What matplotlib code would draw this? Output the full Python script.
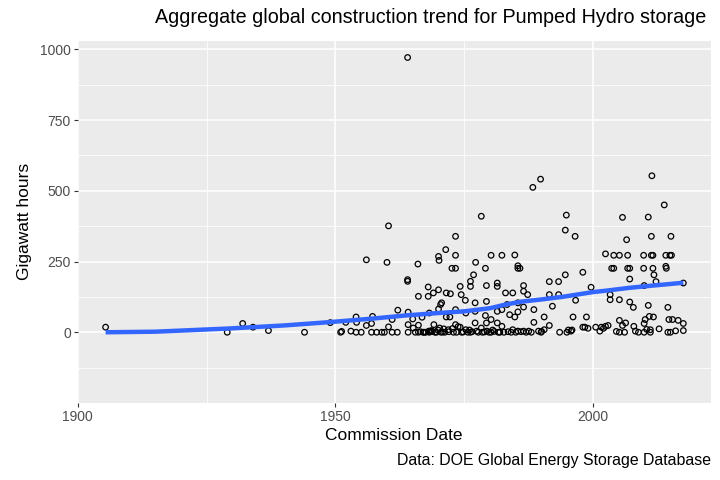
import numpy as np
import matplotlib.pyplot as plt
from matplotlib.ticker import MultipleLocator

plt.rcParams['font.family'] = ['Liberation Sans', 'DejaVu Sans']

# commission year and energy (GWh) of each project, ten per row
years = [1905.4, 1929, 1932, 1934, 1937, 1944, 1949, 1951, 1951.2, 1952,
         1953, 1954, 1954.1, 1954, 1955, 1956, 1956, 1957, 1957.2, 1957,
         1958, 1959, 1959.5, 1960, 1960.3, 1960.3, 1961, 1961, 1962, 1962.1,
         1964, 1964, 1964, 1964.1, 1964.1, 1964.1, 1965, 1965.1, 1966, 1966.1,
         1966.1, 1966.1, 1966.8, 1967.2, 1968, 1968, 1968.2, 1968.1, 1968.2, 1968.4,
         1968.6, 1969, 1969.1, 1969.3, 1970, 1970.1, 1970, 1970, 1970.4, 1970.6,
         1970.2, 1970.5, 1971.4, 1971.5, 1971.5, 1971.9, 1972.2, 1972.3, 1972.6, 1972.7,
         1973.3, 1973.3, 1973.3, 1973.3, 1973.3, 1973.5, 1974.2, 1974.4, 1974.2, 1974.5,
         1975.2, 1975.3, 1975.3, 1976.2, 1976.2, 1976.2, 1976.8, 1977.2, 1977.1, 1977.1,
         1977.1, 1977.4, 1978.3, 1978.3, 1978.5, 1979.1, 1979.3, 1979.3, 1979.1, 1979.3,
         1979.4, 1980.2, 1980.2, 1980.2, 1980.5, 1981.4, 1981.4, 1981.4, 1981.4, 1981.6,
         1982.3, 1982.3, 1982.3, 1983, 1983.3, 1983.8, 1984.4, 1984.4, 1984.8, 1984.8,
         1985.4, 1985.4, 1985.8, 1985.4, 1985.4, 1985.4, 1986.5, 1986.5, 1986.5, 1987.3,
         1986.5, 1987.5, 1988.3, 1988.5, 1988.5, 1989.4, 1989.8, 1989.9, 1990.5, 1990.5,
         1991.5, 1991.5, 1991.5, 1992.1, 1993.3, 1993.3, 1993.5, 1994.6, 1994.6, 1994.8,
         1995.7, 1995.9, 1996.1, 1996.5, 1996.6, 1998, 1998, 1998.4, 1998.7, 1999,
         1999.6, 2000.5, 2001.3, 2001.6, 2002.4, 2002.4, 2002.9, 2003.3, 2003.3, 2003.6,
         2004, 2004, 2005.1, 2005.1, 2005.1, 2005.1, 2005.7, 2005.7, 2006.1, 2006.3,
         2006.5, 2006.7, 2006.7, 2007.1, 2007.1, 2007.1, 2007.8, 2007.9, 2008.2, 2009.8,
         2009.8, 2009.9, 2009.9, 2010.1, 2009.9, 2010.7, 2010.7, 2010.9, 2011.1, 2011.1,
         2011.3, 2011.3, 2011.4, 2011.6, 2011.6, 2011.7, 2011.8, 2012.2, 2013.8, 2014.1,
         2014.1, 2014.2, 2014.5, 2014.7, 2014.5, 2015, 2015.1, 2014.9, 2015.2, 2015.4,
         2016.5, 2017.5, 2017.5, 2017.5, 1965.5, 1966.5, 1967.5, 1968.8, 1969.6, 1970.8,
         1971.2, 1972, 1972.9, 1974.8, 1975.7, 1976.5, 1977.7, 1978.9, 1979.8, 1980.8,
         1981.9, 1982.7, 1983.5, 1984.1, 1985, 1986, 1987, 1988, 1990, 1994.9,
         1995.2, 2002, 2004.5, 2008.8, 2010.4, 2012.8, 2016, 1967, 1969.9, 1971,
         1973.8, 1976]
gwh = [18, 0, 31, 18, 6, 0, 34, 0, 3, 35,
       4, 54, 35, 0, 0, 256, 24, 31, 56, 0,
       0, 0, 0, 247, 376, 19, 45, 0, 0, 78,
       971, 186, 180, 71, 27, 0, 47, 15, 241, 127,
       25, 0, 53, 0, 160, 127, 68, 4, 0, 2,
       6, 139, 27, 0, 268, 254, 150, 82, 98, 104,
       15, 0, 292, 139, 54, 9, 54, 136, 226, 13,
       339, 226, 272, 80, 27, 0, 162, 133, 18, 0,
       113, 68, 9, 180, 162, 0, 203, 247, 104, 74,
       33, 4, 410, 15, 0, 226, 165, 109, 59, 33,
       4, 272, 45, 0, 8, 162, 174, 74, 33, 0,
       272, 80, 21, 139, 98, 62, 139, 9, 273, 54,
       235, 226, 226, 104, 72, 4, 165, 145, 89, 133,
       4, 4, 512, 80, 35, 4, 541, 0, 54, 9,
       179, 133, 24, 92, 179, 133, 0, 203, 361, 414,
       4, 8, 54, 339, 113, 212, 18, 18, 54, 14,
       159, 18, 4, 18, 277, 21, 24, 133, 115, 226,
       226, 272, 272, 115, 42, 0, 406, 24, 0, 33,
       327, 272, 226, 226, 188, 107, 88, 21, 4, 272,
       226, 165, 31, 45, 0, 95, 407, 56, 9, 0,
       339, 272, 553, 226, 272, 54, 203, 179, 450, 272,
       233, 226, 88, 45, 0, 0, 339, 272, 272, 45,
       42, 174, 31, 6, 0, 2, 0, 3, 0, 1,
       0, 2, 0, 1, 0, 2, 0, 1, 0, 3,
       0, 0, 2, 0, 0, 2, 0, 0, 3, 0,
       8, 14, 3, 0, 10, 12, 5, 0, 8, 12,
       20, 8]

# smoothed trend line
trend_years = [1905.4, 1915, 1929, 1940, 1949, 1957, 1964, 1970, 1975, 1980,
               1983, 1986, 1990, 1994, 2000, 2003, 2007, 2011, 2014, 2017.5]
trend_gwh = [0, 2, 13, 24, 36, 48, 60, 68, 74, 85,
             98, 108, 116, 125, 142, 148, 157, 164, 169, 175]

fig = plt.figure(figsize=(7.2, 4.8), dpi=100)
ax = fig.add_axes([0.108, 0.161, 0.879, 0.754])
ax.set_facecolor('#EBEBEB')
for s in ax.spines.values():
    s.set_visible(False)

ax.scatter(years, gwh, s=16, facecolors='none', edgecolors='black',
           linewidths=0.9, zorder=3)
ax.plot(trend_years, trend_gwh, color='#3366FF', linewidth=3.2, zorder=4,
        solid_capstyle='butt')

ax.set_xlim(1900, 2022.8)
ax.set_ylim(-249, 1030)
ax.xaxis.set_major_locator(MultipleLocator(50))
ax.xaxis.set_minor_locator(MultipleLocator(25))
ax.yaxis.set_major_locator(MultipleLocator(250))
ax.yaxis.set_minor_locator(MultipleLocator(125))
ax.grid(which='major', color='white', linewidth=1.1)
ax.grid(which='minor', color='white', linewidth=0.55)
ax.set_axisbelow(True)
ax.tick_params(which='major', length=3, width=0.8, color='#333333',
               labelcolor='#4D4D4D', labelsize=10, pad=2)
ax.tick_params(which='minor', length=0)

ax.set_xlabel('Commission Date', fontsize=12.5, labelpad=3)
ax.set_ylabel('Gigawatt hours', fontsize=12.5, labelpad=6)
fig.text(0.981, 0.963, 'Aggregate global construction trend for Pumped Hydro storage',
         ha='right', va='center', fontsize=14.2)
fig.text(0.987, 0.04, 'Data: DOE Global Energy Storage Database',
         ha='right', va='center', fontsize=11.4)

fig.savefig('out.png', dpi=100)
